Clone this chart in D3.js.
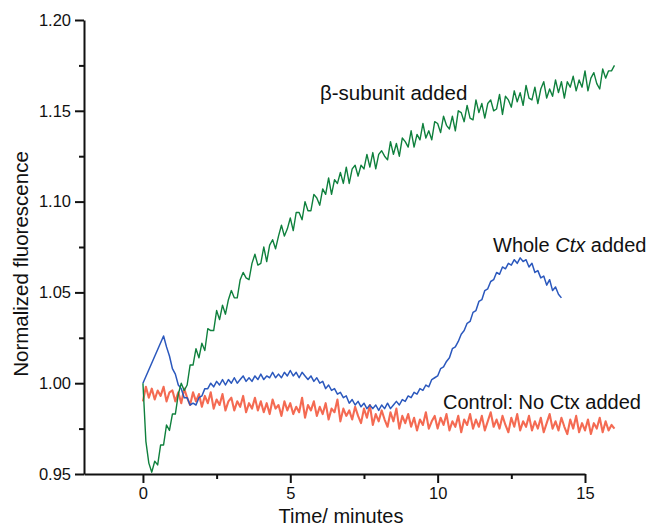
<!DOCTYPE html>
<html>
<head>
<meta charset="utf-8">
<script src="https://cdn.jsdelivr.net/npm/d3@7"></script>
<style>
  html, body { margin: 0; padding: 0; background: #ffffff; }
  svg { display: block; font-family: "Liberation Sans", Arial, sans-serif; }
</style>
</head>
<body>
<svg id="chart" width="654" height="527"></svg>
<script>
// ---------------- data ----------------
const xTicksMajor = [0, 5, 10, 15];
const xTicksMinor = [2.5, 7.5, 12.5];
const yTicksMajor = [0.95, 1.00, 1.05, 1.10, 1.15, 1.20];
const yTicksMinor = [0.975, 1.025, 1.075, 1.125, 1.175];

// beta-subunit added (green), sampled every 0.1 min from t = 0
const greenStart = 0, greenStep = 0.1;
const greenValues = [
  1.000, 0.968, 0.956, 0.951, 0.957, 0.955, 0.966, 0.966, 0.977, 0.974,
  0.983, 0.983, 0.994, 1.000, 0.996, 0.999, 1.010, 1.010, 1.019, 1.014,
  1.022, 1.018, 1.030, 1.029, 1.029, 1.040, 1.035, 1.043, 1.038, 1.046,
  1.051, 1.047, 1.047, 1.057, 1.061, 1.058, 1.057, 1.066, 1.071, 1.065,
  1.066, 1.075, 1.067, 1.076, 1.079, 1.074, 1.081, 1.087, 1.081, 1.085,
  1.091, 1.084, 1.094, 1.094, 1.090, 1.100, 1.095, 1.095, 1.104, 1.102,
  1.098, 1.107, 1.104, 1.113, 1.104, 1.112, 1.110, 1.116, 1.110, 1.119,
  1.110, 1.118, 1.120, 1.114, 1.120, 1.118, 1.126, 1.119, 1.127, 1.118,
  1.126, 1.128, 1.125, 1.123, 1.133, 1.126, 1.132, 1.125, 1.135, 1.133,
  1.130, 1.139, 1.130, 1.137, 1.134, 1.143, 1.135, 1.139, 1.134, 1.144,
  1.143, 1.138, 1.147, 1.142, 1.140, 1.147, 1.139, 1.150, 1.149, 1.144,
  1.153, 1.146, 1.145, 1.156, 1.149, 1.154, 1.146, 1.154, 1.156, 1.150,
  1.151, 1.159, 1.148, 1.158, 1.156, 1.152, 1.161, 1.155, 1.160, 1.153,
  1.164, 1.157, 1.156, 1.163, 1.154, 1.162, 1.166, 1.157, 1.162, 1.158,
  1.167, 1.160, 1.166, 1.157, 1.166, 1.163, 1.169, 1.161, 1.167, 1.163,
  1.172, 1.161, 1.168, 1.171, 1.165, 1.162, 1.173, 1.168, 1.172, 1.172,
  1.175
];

// Control: no Ctx added (red), sampled every 0.1 min from t = 0
const redStart = 0, redStep = 0.1;
const redValues = [
  0.990, 0.998, 0.992, 0.997, 0.991, 0.996, 0.993, 0.998, 0.990, 0.995,
  0.996, 0.990, 0.995, 0.989, 0.997, 0.992, 0.988, 0.995, 0.990, 0.994,
  0.987, 0.993, 0.989, 0.995, 0.986, 0.991, 0.988, 0.994, 0.985, 0.990,
  0.992, 0.985, 0.990, 0.987, 0.993, 0.984, 0.989, 0.986, 0.992, 0.985,
  0.990, 0.984, 0.989, 0.983, 0.991, 0.986, 0.988, 0.982, 0.990, 0.985,
  0.989, 0.983, 0.987, 0.984, 0.992, 0.981, 0.988, 0.985, 0.990, 0.982,
  0.987, 0.983, 0.989, 0.980, 0.986, 0.984, 0.991, 0.979, 0.986, 0.982,
  0.985, 0.980, 0.987, 0.982, 0.978, 0.986, 0.981, 0.988, 0.977, 0.983,
  0.979, 0.985, 0.980, 0.976, 0.984, 0.979, 0.986, 0.975, 0.982, 0.978,
  0.983, 0.976, 0.981, 0.974, 0.980, 0.977, 0.984, 0.975, 0.979, 0.982,
  0.975, 0.981, 0.977, 0.983, 0.974, 0.979, 0.976, 0.982, 0.973, 0.980,
  0.977, 0.983, 0.975, 0.980, 0.976, 0.982, 0.974, 0.979, 0.984, 0.976,
  0.980, 0.975, 0.982, 0.977, 0.973, 0.981, 0.976, 0.983, 0.974, 0.979,
  0.976, 0.982, 0.974, 0.979, 0.975, 0.981, 0.973, 0.978, 0.983, 0.975,
  0.979, 0.974, 0.981, 0.976, 0.972, 0.980, 0.975, 0.982, 0.973, 0.978,
  0.974, 0.980, 0.972, 0.978, 0.975, 0.981, 0.973, 0.979, 0.974, 0.977,
  0.975
];

// Whole Ctx added (blue): first reading at t = 0, then every 0.1 min from t = 0.7
const blueLeadTime = 0, blueLeadValue = 1.000;
const blueStart = 0.7, blueStep = 0.1;
const blueValues = [
  1.026, 1.020, 1.015, 1.008, 1.005, 0.999, 0.997, 0.992, 0.992, 0.988,
  0.989, 0.988, 0.992, 0.993, 0.997, 0.997, 1.000, 0.998, 1.001, 0.999,
  1.002, 0.999, 1.002, 1.000, 1.003, 1.000, 1.002, 1.004, 1.001, 1.003,
  1.001, 1.004, 1.002, 1.005, 1.002, 1.004, 1.003, 1.006, 1.003, 1.005,
  1.003, 1.006, 1.004, 1.007, 1.004, 1.006, 1.003, 1.006, 1.004, 1.002,
  1.004, 1.001, 1.003, 1.000, 1.001, 0.997, 0.999, 0.996, 0.997, 0.994,
  0.995, 0.992, 0.993, 0.989, 0.991, 0.988, 0.990, 0.987, 0.989, 0.986,
  0.988, 0.986, 0.988, 0.985, 0.988, 0.986, 0.989, 0.986, 0.988, 0.990,
  0.988, 0.991, 0.990, 0.993, 0.992, 0.995, 0.994, 0.997, 0.996, 0.999,
  0.998, 1.002, 1.003, 1.004, 1.008, 1.009, 1.012, 1.014, 1.019, 1.020,
  1.023, 1.027, 1.029, 1.033, 1.034, 1.039, 1.040, 1.045, 1.046, 1.051,
  1.052, 1.056, 1.057, 1.061, 1.060, 1.064, 1.063, 1.066, 1.065, 1.068,
  1.066, 1.069, 1.067, 1.068, 1.064, 1.066, 1.061, 1.062, 1.058, 1.059,
  1.054, 1.057, 1.051, 1.053, 1.049, 1.047
];

const labels = {
  x: "Time/ minutes",
  y: "Normalized fluorescence",
  green: "β-subunit added",
  red: "Control: No Ctx added"
};

// ---------------- build ----------------
function series(start, step, values) {
  return values.map((v, i) => ({ t: start + i * step, v }));
}
const greenData = series(greenStart, greenStep, greenValues);
const redData = series(redStart, redStep, redValues);
const blueData = [{ t: blueLeadTime, v: blueLeadValue }].concat(series(blueStart, blueStep, blueValues));

const svg = d3.select("#chart");
const x = d3.scaleLinear().domain([-2, 15]).range([84, 585]);
const y = d3.scaleLinear().domain([0.95, 1.20]).range([474, 20]);

const line = d3.line().x(d => x(d.t)).y(d => y(d.v));

// lines
svg.append("path").datum(redData)
  .attr("d", line).attr("fill", "none")
  .attr("stroke", "#f2553a").attr("stroke-width", 2.1)
  .attr("stroke-opacity", 0.88).attr("stroke-linejoin", "round");
svg.append("path").datum(blueData)
  .attr("d", line).attr("fill", "none")
  .attr("stroke", "#2b58bd").attr("stroke-width", 1.5)
  .attr("stroke-linejoin", "round");
svg.append("path").datum(greenData)
  .attr("d", line).attr("fill", "none")
  .attr("stroke", "#0f803d").attr("stroke-width", 1.4)
  .attr("stroke-linejoin", "round");

// axes
const fontTick = 16.5;
svg.append("g").attr("transform", `translate(0,${y(0.95)})`)
  .call(d3.axisBottom(x).tickValues(xTicksMajor).tickFormat(d3.format("d"))
    .tickSize(9).tickSizeOuter(0).tickPadding(4));
svg.append("g").attr("transform", `translate(0,${y(0.95)})`)
  .call(d3.axisBottom(x).tickValues(xTicksMinor).tickFormat("").tickSize(5).tickSizeOuter(0))
  .call(g => g.select(".domain").remove());

svg.append("g").attr("transform", `translate(${x(-2)},0)`)
  .call(d3.axisLeft(y).tickValues(yTicksMajor).tickFormat(d3.format(".2f"))
    .tickSize(9).tickSizeOuter(0).tickPadding(4));
svg.append("g").attr("transform", `translate(${x(-2)},0)`)
  .call(d3.axisLeft(y).tickValues(yTicksMinor).tickFormat("").tickSize(5).tickSizeOuter(0))
  .call(g => g.select(".domain").remove());

svg.selectAll(".domain").attr("stroke", "#111").attr("stroke-width", 2);
svg.selectAll(".tick line").attr("stroke", "#111").attr("stroke-width", 2);
svg.selectAll(".tick text")
  .attr("font-family", "'Liberation Sans', Arial, sans-serif")
  .attr("font-size", fontTick).attr("fill", "#111");

// axis titles
svg.append("text")
  .attr("x", 341).attr("y", 523)
  .attr("text-anchor", "middle")
  .attr("font-size", 20).attr("fill", "#111")
  .text(labels.x);
svg.append("text")
  .attr("transform", `translate(28,264) rotate(-90)`)
  .attr("text-anchor", "middle")
  .attr("font-size", 20.5).attr("fill", "#111")
  .text(labels.y);

// annotations
svg.append("text")
  .attr("x", 320).attr("y", 100)
  .attr("font-size", 20.5).attr("fill", "#111")
  .text(labels.green);

const whole = svg.append("text")
  .attr("x", 493).attr("y", 252)
  .attr("font-size", 20).attr("fill", "#111");
whole.append("tspan").text("Whole ");
whole.append("tspan").attr("font-style", "italic").text("Ctx");
whole.append("tspan").text(" added");

svg.append("text")
  .attr("x", 443).attr("y", 409)
  .attr("font-size", 20).attr("fill", "#111")
  .text(labels.red);
</script>
</body>
</html>
